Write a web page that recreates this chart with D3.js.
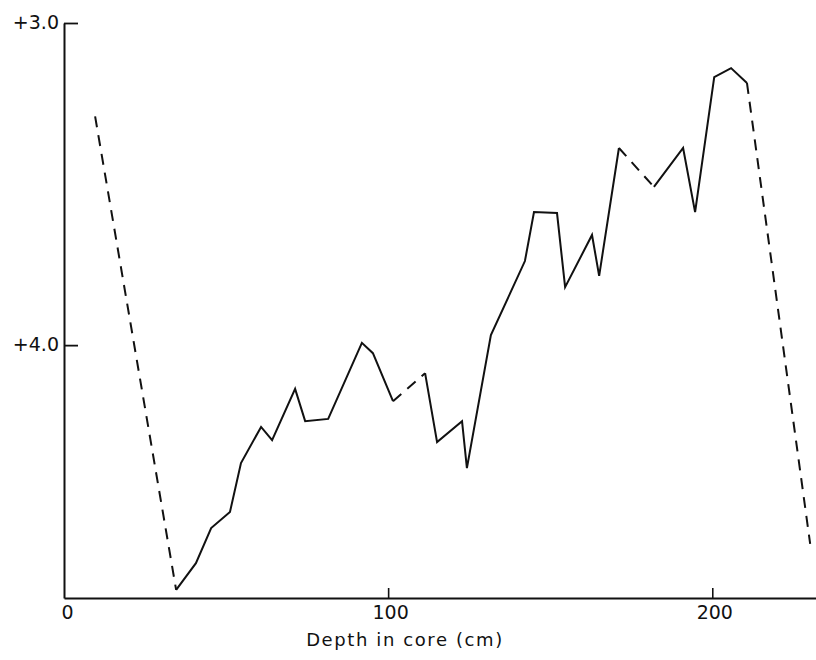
<!DOCTYPE html>
<html>
<head>
    <title>Depth in core profile</title>
    <script src="https://d3js.org/d3.v7.min.js"></script>
    <style>
        body { margin: 0; background: #fff; }
        text { font-family: "DejaVu Sans", sans-serif; fill: #111; }
    </style>
</head>
<body>
<svg id="chart" width="816" height="660"></svg>

<script>
// values (y axis runs downward: +3.0 at top)
const depths = [9.6, 34.6, 40.7, 45.4, 51.2, 54.6, 60.8, 64.2, 71.3, 74.4, 81.5, 91.9,
                95.3, 101.5, 111.4, 115.1, 122.8, 124.3, 131.7, 142.2, 145.0, 152.1, 154.6,
                162.9, 165.1, 171.2, 182.0, 191.0, 194.7, 200.6, 205.8, 210.7, 230.2];
const values = [3.29, 4.76, 4.677, 4.568, 4.518, 4.366, 4.254, 4.295, 4.136, 4.236, 4.229, 3.993,
                4.025, 4.174, 4.087, 4.301, 4.236, 4.382, 3.969, 3.739, 3.587, 3.59, 3.82,
                3.658, 3.785, 3.388, 3.509, 3.388, 3.587, 3.168, 3.14, 3.186, 4.617];
// segments (index of starting point) drawn dashed
const dashedSegments = [0, 13, 25, 31];

const xTicks = [0, 100, 200];
const yTicks = [3.0, 4.0];
const xTitle = "Depth in core (cm)";

const svg = d3.select("#chart");

const x = d3.scaleLinear().domain([0, 232]).range([64, 816]);
const y = d3.scaleLinear().domain([3.0, 4.785]).range([23, 598]);

const points = depths.map((d, i) => ({depth: d, value: values[i]}));

const line = d3.line()
    .x(d => x(d.depth))
    .y(d => y(d.value));

// draw segment by segment so gaps in the record can be dashed
const segs = d3.range(points.length - 1).map(i => ({
    pts: [points[i], points[i + 1]],
    dashed: dashedSegments.includes(i)
}));

// merge consecutive solid segments into one path for clean joins
const runs = [];
segs.forEach(s => {
    const last = runs[runs.length - 1];
    if (last && !last.dashed && !s.dashed) last.pts.push(s.pts[1]);
    else runs.push({pts: s.pts.slice(), dashed: s.dashed});
});

svg.append("g")
   .selectAll("path")
   .data(runs)
   .join("path")
   .attr("fill", "none")
   .attr("stroke", "#111")
   .attr("stroke-width", 2)
   .attr("stroke-linejoin", "miter")
   .attr("stroke-dasharray", d => d.dashed ? "11,8" : null)
   .attr("d", d => line(d.pts));

// x axis, ticks pointing up into the plot
const xAxis = svg.append("g")
   .attr("transform", `translate(0,${y.range()[1]})`)
   .call(d3.axisBottom(x).tickValues(xTicks).tickSizeInner(-10).tickSizeOuter(0).tickPadding(8));
xAxis.select(".domain").attr("stroke", "#111").attr("stroke-width", 2);
xAxis.selectAll(".tick line").attr("stroke", "#111").attr("stroke-width", 1.6)
     .attr("display", d => d === 0 ? "none" : null);
xAxis.selectAll(".tick text")
     .attr("font-size", 19)
     .attr("dx", d => d === 0 ? 3 : 2)
     .attr("y", 8)
     .attr("dy", "0.71em");

// y axis, ticks pointing right
const yAxis = svg.append("g")
   .attr("transform", `translate(${x(0)},0)`)
   .call(d3.axisLeft(y).tickValues(yTicks).tickSizeInner(-14).tickSizeOuter(0).tickPadding(5)
           .tickFormat(d => "+" + d.toFixed(1)));
yAxis.select(".domain").attr("stroke", "#111").attr("stroke-width", 2);
yAxis.selectAll(".tick line").attr("stroke", "#111").attr("stroke-width", 1.8);
yAxis.selectAll(".tick text").attr("font-size", 19).attr("dy", "0.3em");

svg.append("text")
   .attr("x", 405)
   .attr("y", 646)
   .attr("text-anchor", "middle")
   .attr("font-size", 18)
   .attr("letter-spacing", 1.6)
   .text(xTitle);
</script>
</body>
</html>
